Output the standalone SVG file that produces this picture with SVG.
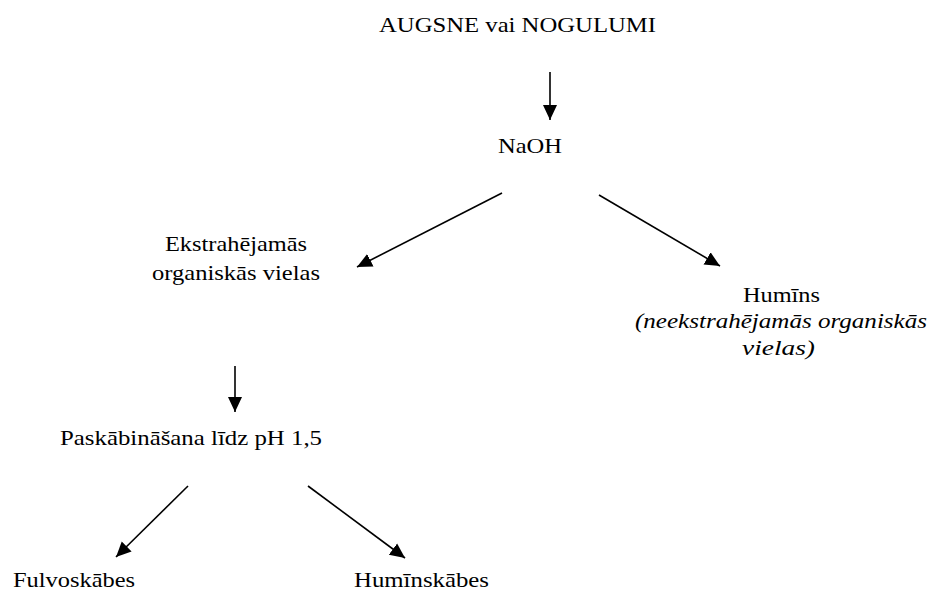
<svg xmlns="http://www.w3.org/2000/svg" width="930" height="592" viewBox="0 0 930 592">
<style>
text{font-family:"Liberation Serif","DejaVu Serif",serif;font-size:22px;fill:#000}
.it{font-style:italic}
.c line{stroke:#000;stroke-width:1.6}
</style>
<defs>
<marker id="ah" markerUnits="userSpaceOnUse" markerWidth="16" markerHeight="16" viewBox="0 0 16 16" refX="15" refY="8" orient="auto">
<path d="M0,1 L15,8 L0,15 Z" fill="#000"/>
</marker>
</defs>
<rect width="930" height="592" fill="#fff"/>
<g id="n1"><text x="379" y="32" textLength="277" lengthAdjust="spacingAndGlyphs">AUGSNE vai NOGULUMI</text></g>
<g id="n2"><text x="498" y="153" textLength="64" lengthAdjust="spacingAndGlyphs">NaOH</text></g>
<g id="n3"><text x="165" y="251" textLength="142" lengthAdjust="spacingAndGlyphs">Ekstrahējamās</text><text x="152" y="280" textLength="168" lengthAdjust="spacingAndGlyphs">organiskās vielas</text></g>
<g id="n4"><text x="743" y="302" textLength="77" lengthAdjust="spacingAndGlyphs">Humīns</text><text class="it" x="635" y="328" textLength="292" lengthAdjust="spacingAndGlyphs">(neekstrahējamās organiskās</text><text class="it" x="742" y="355" textLength="73" lengthAdjust="spacingAndGlyphs">vielas)</text></g>
<g id="n5"><text x="60" y="445" textLength="262" lengthAdjust="spacingAndGlyphs">Paskābināšana līdz pH 1,5</text></g>
<g id="n6"><text x="13" y="587" textLength="122" lengthAdjust="spacingAndGlyphs">Fulvoskābes</text></g>
<g id="n7"><text x="354" y="587" textLength="135" lengthAdjust="spacingAndGlyphs">Humīnskābes</text></g>
<g class="c" id="connectors">
<line x1="550" y1="72" x2="550" y2="120" marker-end="url(#ah)"/>
<line x1="502" y1="193" x2="357" y2="267" marker-end="url(#ah)"/>
<line x1="599" y1="195" x2="720" y2="266" marker-end="url(#ah)"/>
<line x1="235" y1="366" x2="235" y2="412" marker-end="url(#ah)"/>
<line x1="188" y1="486" x2="116" y2="557" marker-end="url(#ah)"/>
<line x1="308" y1="486" x2="405" y2="558" marker-end="url(#ah)"/>
</g>
</svg>
